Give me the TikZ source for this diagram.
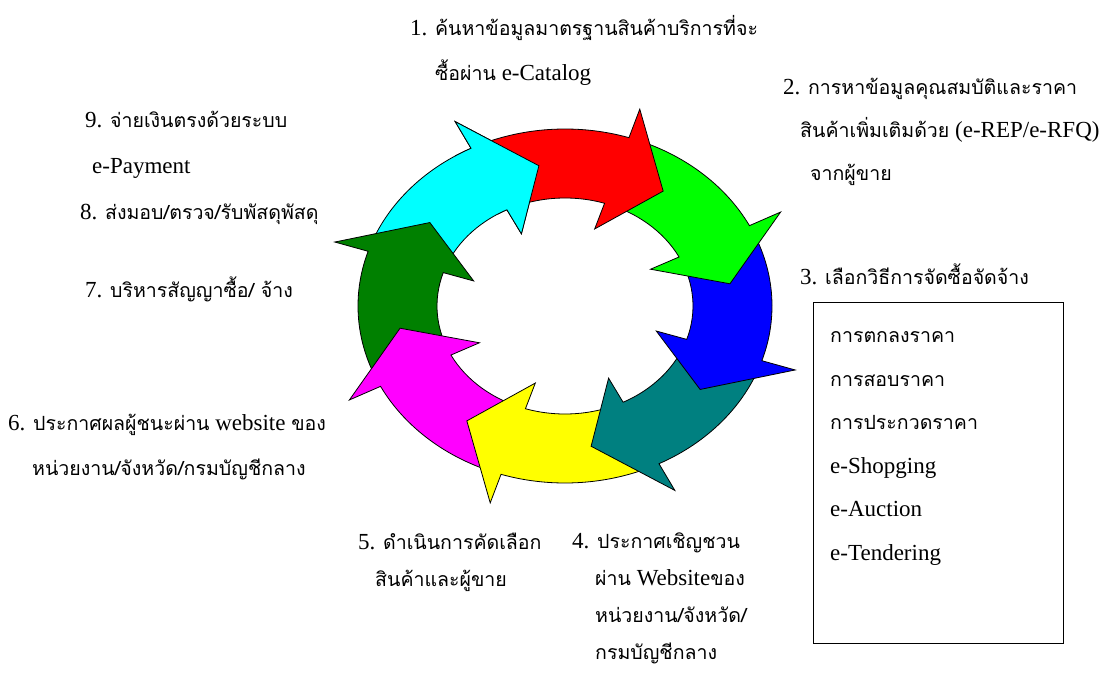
\documentclass[tikz,border=0pt]{standalone}
\usepackage{fontspec}
\setmainfont{Liberation Serif}
\newfontfamily\thaifont[Script=Thai,Scale=0.85]{Loma}
\newcommand{\tha}[1]{{\thaifont #1}}
\definecolor{redc}{RGB}{255,0,0}
\definecolor{greenc}{RGB}{0,255,0}
\definecolor{bluec}{RGB}{0,0,255}
\definecolor{tealc}{RGB}{0,128,128}
\definecolor{yelc}{RGB}{255,255,0}
\definecolor{magc}{RGB}{255,0,255}
\definecolor{dkgreen}{RGB}{0,128,0}
\definecolor{cyanc}{RGB}{0,255,255}
% one curved arrow of the ring: #1 = angle where the head starts, #2 = fill
\newcommand{\ringarrow}[2]{%
  \filldraw[ring, fill=#2] (#1+45:207 and 177)
    arc[start angle=#1+45, end angle=#1, x radius=207, y radius=177]
    -- (#1:242 and 207) -- (#1-18:167 and 142) -- (#1:96 and 81) -- (#1:128 and 108)
    arc[start angle=#1, end angle=#1+45, x radius=128, y radius=108] -- cycle;}

\begin{document}
\begin{tikzpicture}[x=1pt,y=1pt,
  lbl/.style={anchor=base west, align=left, inner sep=0pt, font=\fontsize{23}{45}\selectfont},
  ring/.style={draw=black, line width=0.8pt}]
\useasboundingbox (0,0) rectangle (1100,-679);

% the ring, last arrow first so every head lies on the next tail
\begin{scope}[shift={(565,-306)}]
\foreach \b/\c in {117/cyanc, 162/dkgreen, 207/magc, 252/yelc, 297/tealc, 342/bluec, 387/greenc, 432/redc}
  \ringarrow{\b}{\c};
% head of the cyan arrow back on top of the red tail
\begin{scope}
\clip (0,0) -- (122:400 and 340) -- (75:400 and 340) -- cycle;
\ringarrow{117}{cyanc}
\end{scope}
\end{scope}

% labels (a node's base is the baseline of its last line)
\node[lbl] (s1) at (410,-81) {1. \tha{ค้นหาข้อมูลมาตรฐานสินค้าบริการที่จะ}\\
  \hspace*{25pt}\tha{ซื้อผ่าน} e-Catalog};
\node[lbl, font=\fontsize{23}{43}\selectfont] (s2) at (783,-181) {2. \tha{การหาข้อมูลคุณสมบัติและราคา}\\
  \hspace*{17pt}\tha{สินค้าเพิ่มเติมด้วย} (e-REP/e-RFQ)\\
  \hspace*{27pt}\tha{จากผู้ขาย}};
\node[lbl] (s3) at (800,-284) {3. \tha{เลือกวิธีการจัดซื้อจัดจ้าง}};
\node[draw, line width=1pt, anchor=north west, minimum width=250, minimum height=341] (ways) at (813,-302) {};
\node[lbl, font=\fontsize{23}{43.5}\selectfont] (waylist) at (830,-560) {\tha{การตกลงราคา}\\
  \tha{การสอบราคา}\\
  \tha{การประกวดราคา}\\
  e-Shopging\\
  e-Auction\\
  e-Tendering};
\node[lbl, font=\fontsize{23}{36.7}\selectfont] (s4) at (572,-659) {4. \tha{ประกาศเชิญชวน}\\
  \hspace*{23pt}\tha{ผ่าน} Website\tha{ของ}\\
  \hspace*{23pt}\tha{หน่วยงาน/จังหวัด/}\\
  \hspace*{23pt}\tha{กรมบัญชีกลาง}};
\node[lbl, font=\fontsize{23}{37}\selectfont] (s5) at (358,-586) {5. \tha{ดำเนินการคัดเลือก}\\
  \hspace*{17pt}\tha{สินค้าและผู้ขาย}};
\node[lbl] (s6) at (8,-475) {6. \tha{ประกาศผลผู้ชนะผ่าน} website \tha{ของ}\\
  \hspace*{24pt}\tha{หน่วยงาน/จังหวัด/กรมบัญชีกลาง}};
\node[lbl] (s7) at (85,-297) {7. \tha{บริหารสัญญาซื้อ/ จ้าง}};
\node[lbl] (s8) at (80,-220) {8. \tha{ส่งมอบ/ตรวจ/รับพัสดุพัสดุ}};
\node[lbl, font=\fontsize{23}{46}\selectfont] (s9) at (85,-174) {9. \tha{จ่ายเงินตรงด้วยระบบ}\\
  \hspace*{7pt}e-Payment};
\end{tikzpicture}
\end{document}
